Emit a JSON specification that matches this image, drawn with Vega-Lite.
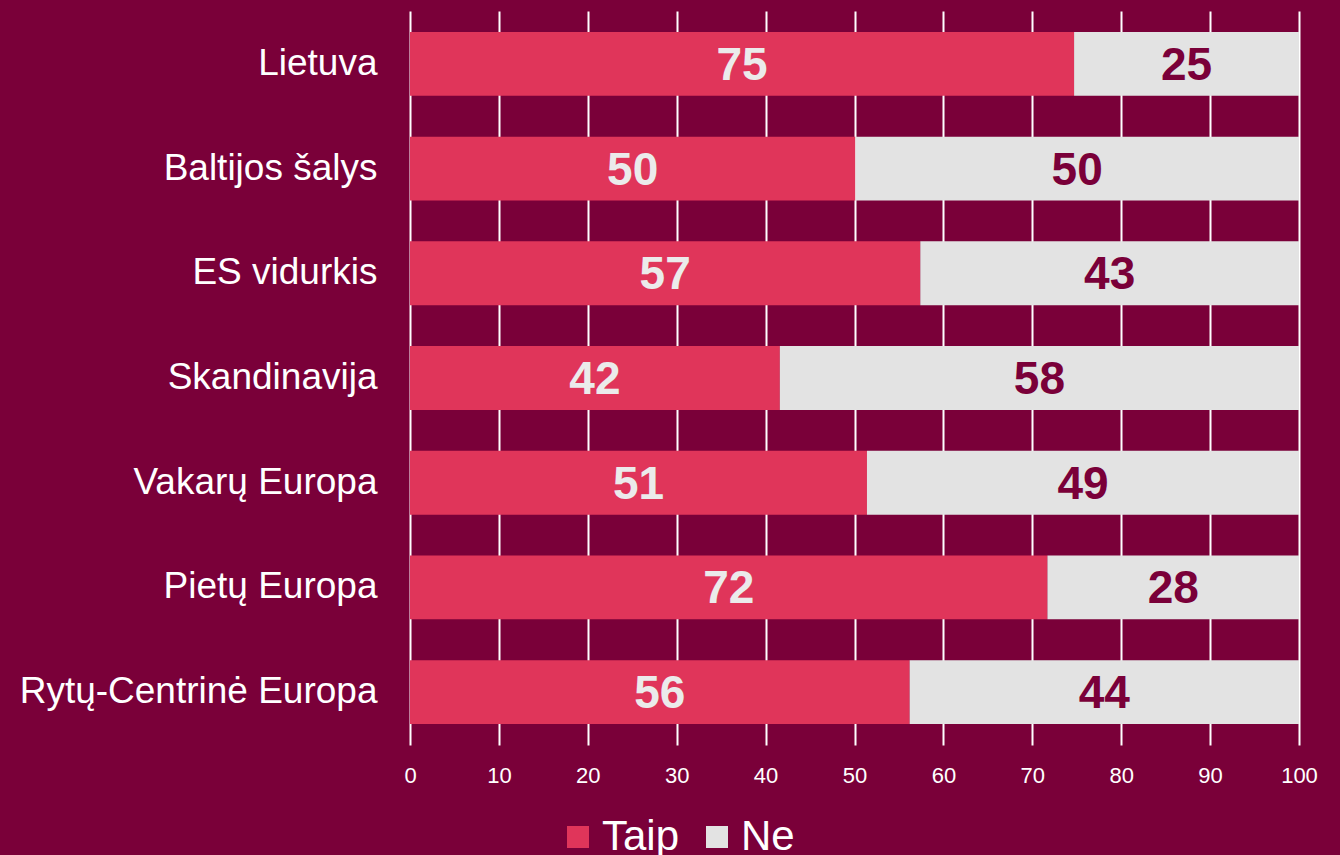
{
  "$schema": "https://vega.github.io/schema/vega-lite/v6.json",
  "width": 889,
  "height": 734,
  "autosize": {"type": "none"},
  "padding": {"left": 410, "top": 11, "right": 41, "bottom": 110},
  "background": "#7A0039",
  "config": {
    "view": {"stroke": null},
    "font": "Liberation Sans"
  },
  "data": {
    "values": [
      {"category": "Lietuva", "answer": "Taip", "value": 74.7},
      {"category": "Lietuva", "answer": "Ne", "value": 25.3},
      {"category": "Baltijos šalys", "answer": "Taip", "value": 50.1},
      {"category": "Baltijos šalys", "answer": "Ne", "value": 49.9},
      {"category": "ES vidurkis", "answer": "Taip", "value": 57.4},
      {"category": "ES vidurkis", "answer": "Ne", "value": 42.6},
      {"category": "Skandinavija", "answer": "Taip", "value": 41.6},
      {"category": "Skandinavija", "answer": "Ne", "value": 58.4},
      {"category": "Vakarų Europa", "answer": "Taip", "value": 51.4},
      {"category": "Vakarų Europa", "answer": "Ne", "value": 48.6},
      {"category": "Pietų Europa", "answer": "Taip", "value": 71.7},
      {"category": "Pietų Europa", "answer": "Ne", "value": 28.3},
      {"category": "Rytų-Centrinė Europa", "answer": "Taip", "value": 56.2},
      {"category": "Rytų-Centrinė Europa", "answer": "Ne", "value": 43.8}
    ]
  },
  "transform": [
    {"stack": "value", "groupby": ["category"], "as": ["v0", "v1"], "sort": [{"field": "answer", "order": "descending"}]},
    {"calculate": "(datum.v0 + datum.v1) / 2", "as": "mid"}
  ],
  "encoding": {
    "y": {
      "field": "category",
      "type": "nominal",
      "sort": ["Lietuva", "Baltijos šalys", "ES vidurkis", "Skandinavija", "Vakarų Europa", "Pietų Europa", "Rytų-Centrinė Europa"],
      "scale": {"paddingInner": 0.39, "paddingOuter": 0.2},
      "axis": {
        "title": null,
        "ticks": false,
        "domain": false,
        "labelFontSize": 37,
        "labelColor": "#FFFFFF",
        "labelPadding": 33,
        "labelLimit": 500
      }
    }
  },
  "layer": [
    {
      "mark": {"type": "bar"},
      "encoding": {
        "x": {
          "field": "v0",
          "type": "quantitative",
          "scale": {"domain": [0, 100], "nice": false},
          "axis": {
            "title": null,
            "values": [0, 10, 20, 30, 40, 50, 60, 70, 80, 90, 100],
            "grid": true,
            "gridColor": "#FFFFFF",
            "gridWidth": 2,
            "gridOpacity": 1,
            "domain": false,
            "ticks": false,
            "labelFontSize": 22,
            "labelColor": "#FFFFFF",
            "labelPadding": 20,
            "labelFlush": false
          }
        },
        "x2": {"field": "v1"},
        "color": {
          "field": "answer",
          "type": "nominal",
          "scale": {"domain": ["Taip", "Ne"], "range": ["#E0355A", "#E3E3E3"]},
          "legend": {
            "title": null,
            "orient": "none",
            "direction": "horizontal",
            "legendX": 147,
            "legendY": 805,
            "symbolType": "square",
            "symbolSize": 484,
            "symbolStrokeWidth": 0,
            "symbolOpacity": 1,
            "labelFontSize": 42,
            "labelColor": "#FFFFFF",
            "labelOffset": 3,
            "columnPadding": 16
          }
        }
      }
    },
    {
      "mark": {"type": "text", "fontSize": 46, "fontWeight": "bold", "baseline": "middle", "align": "center", "dy": 2},
      "encoding": {
        "x": {"field": "mid", "type": "quantitative"},
        "text": {"field": "value", "type": "quantitative", "format": ".0f"},
        "color": {
          "condition": {"test": "datum.answer === 'Taip'", "value": "#EBEBEB"},
          "value": "#7A0039"
        }
      }
    }
  ]
}
